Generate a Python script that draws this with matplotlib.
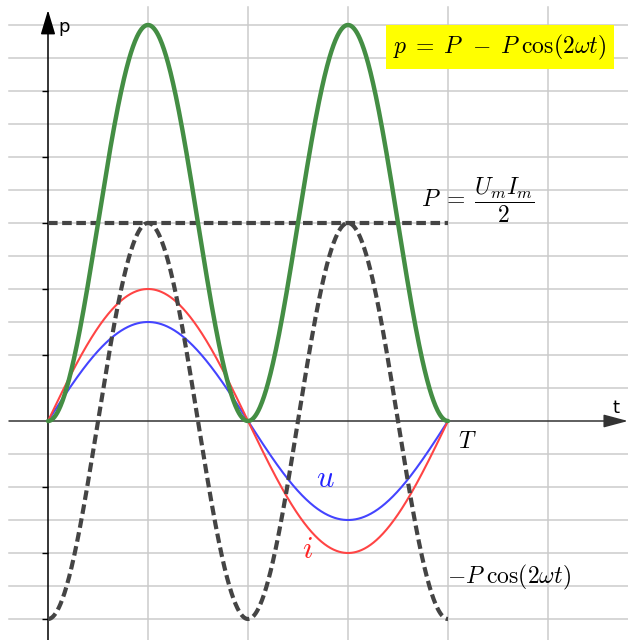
import numpy as np
import matplotlib
matplotlib.use("Agg")
import matplotlib.pyplot as plt

plt.rcParams["mathtext.fontset"] = "cm"

# Amplitudes (grid units) and period
T = 4.0
U_m = 3.0
I_m = 4.0
P = U_m * I_m / 2.0          # average power = 6

t = np.linspace(0, T, 801)
w = 2 * np.pi / T
u = U_m * np.sin(w * t)
i = I_m * np.sin(w * t)
p = P - P * np.cos(2 * w * t)
osc = -P * np.cos(2 * w * t)

x_min, x_max = -0.48, 5.8
y_min, y_max = -219 / 33, 421 / 33

fig = plt.figure(figsize=(6.28, 6.4), dpi=100)
ax = fig.add_axes([0, 0, 1, 1])
ax.set_xlim(x_min, x_max)
ax.set_ylim(y_min, y_max)
for s in ["top", "right", "bottom"]:
    ax.spines[s].set_visible(False)
ax.set_xticks([])

# grid
grid_c = "#cbcbcb"
for yy in range(-6, 13):
    if yy == 0:
        continue
    ax.plot([-0.39, x_max], [yy, yy], color=grid_c, lw=1.1, zorder=0)
for xx in range(1, 6):
    ax.plot([xx, xx], [y_min, 12.55], color=grid_c, lw=1.1, zorder=0)

# y axis (spine with ticks) and arrow
ax.spines["left"].set_position(("data", 0))
ax.spines["left"].set_bounds(y_min, 12.2)
ax.spines["left"].set_linewidth(1.1)
ax.set_yticks([-6, -4, -2, 2, 4, 6, 8, 10])
ax.set_yticklabels([])
ax.tick_params(axis="y", direction="out", length=4, width=1.0, color="black")
ax.annotate("", xy=(0, 12.45), xytext=(0, 11.9),
            arrowprops=dict(arrowstyle="-|>,head_length=1.5,head_width=0.45",
                            color="black", lw=1.1, mutation_scale=10,
                            shrinkA=0, shrinkB=0), zorder=5)

# x axis with arrow
ax.annotate("", xy=(5.8, 0), xytext=(-0.39, 0),
            arrowprops=dict(arrowstyle="-|>,head_length=1.5,head_width=0.4",
                            color="#333333", lw=1.1, mutation_scale=10,
                            shrinkA=0, shrinkB=0), zorder=2)

ax.text(0.1, 11.95, "p", fontsize=13, va="center", ha="left", family="DejaVu Sans")
ax.text(5.68, 0.4, "t", fontsize=13, va="center", ha="center", family="DejaVu Sans")

# curves
ax.plot(t, u, color="#4444ff", lw=1.5, zorder=3)
ax.plot(t, i, color="#ff4444", lw=1.5, zorder=3)
ax.plot(t, osc, color="#444444", lw=3.0, dashes=(2.3, 1.1),
        dash_capstyle="butt", zorder=4)
ax.plot([0, T], [P, P], color="#444444", lw=3.0, dashes=(2.3, 1.1), zorder=4)
ax.plot(t, p, color="#448e44", lw=3.2, solid_capstyle="round", zorder=5)

# labels
ax.text(4.52, 11.33, r"$p\;=\;P\;\,-\;P\;\mathrm{cos}(2\omega t)$", fontsize=17,
        ha="center", va="center",
        bbox=dict(boxstyle="square,pad=0.3", fc="#ffff00", ec="none"), zorder=6)
ax.text(4.30, 6.7, r"$P\;=\;\dfrac{U_m I_m}{2}$", fontsize=17,
        ha="center", va="center")
ax.text(4.19, -0.6, r"$T$", fontsize=17, ha="center", va="center")
ax.text(2.77, -1.73, r"$u$", fontsize=22, color="#2222ff", ha="center", va="center")
ax.text(2.60, -3.9, r"$i$", fontsize=22, color="#ff2222", ha="center", va="center")
ax.text(3.99, -4.73, r"$-P\;\mathrm{cos}(2\omega t)$", fontsize=17, ha="left", va="center")

fig.savefig("out.png", dpi=100)
